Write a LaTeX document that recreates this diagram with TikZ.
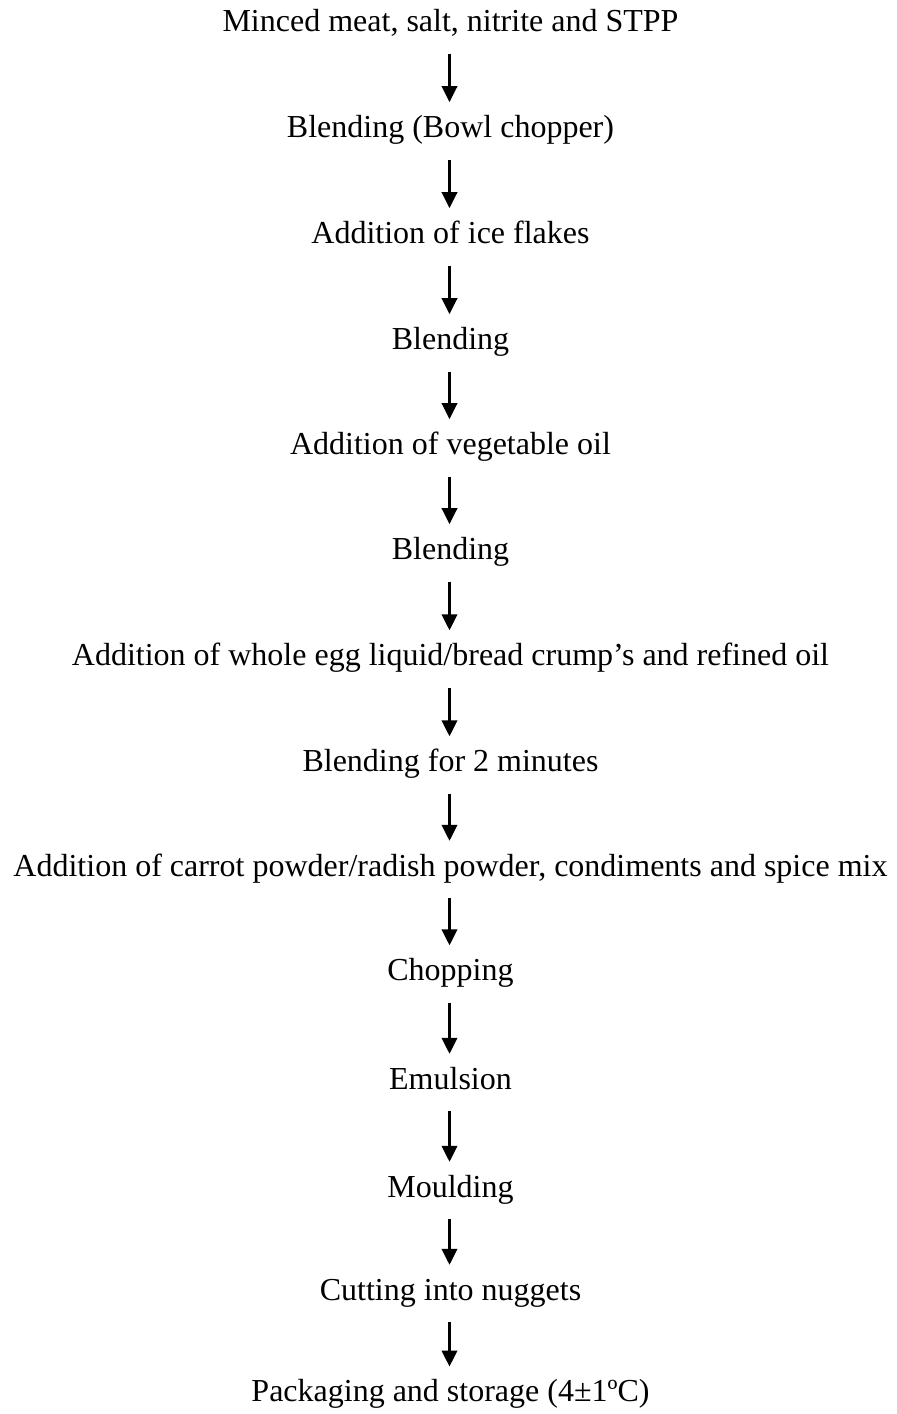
\documentclass[tikz,border=0pt]{standalone}
\usepackage{fontspec}
\setmainfont{Liberation Serif}
\usetikzlibrary{arrows.meta}
\tikzset{
  stepnode/.style={inner xsep=0pt, inner ysep=16pt, text height=19pt, text depth=6pt,
    font=\fontsize{32}{38}\selectfont, anchor=base},
  flowarrow/.style={line width=2.4pt, -{Triangle[length=16pt,width=15.5pt]}}
}
\begin{document}
\begin{tikzpicture}[x=1pt,y=-1pt]
\useasboundingbox (0,0) rectangle (897,1414);
\def\cx{450.5}
\node[stepnode] (n1) at (\cx,31.3) {Minced meat, salt, nitrite and STPP};
\node[stepnode] (n2) at (\cx,137.3) {Blending (Bowl chopper)};
\node[stepnode] (n3) at (\cx,243.3) {Addition of ice flakes};
\node[stepnode] (n4) at (\cx,349.3) {Blending};
\node[stepnode] (n5) at (\cx,454.3) {Addition of vegetable oil};
\node[stepnode] (n6) at (\cx,559.3) {Blending};
\node[stepnode] (n7) at (\cx,665.5) {Addition of whole egg liquid/bread crump’s and refined oil};
\node[stepnode] (n8) at (\cx,771.5) {Blending for 2 minutes};
\node[stepnode] (n9) at (\cx,876) {Addition of carrot powder/radish powder, condiments and spice mix};
\node[stepnode] (n10) at (\cx,980.5) {Chopping};
\node[stepnode] (n11) at (\cx,1089) {Emulsion};
\node[stepnode] (n12) at (\cx,1197) {Moulding};
\node[stepnode] (n13) at (\cx,1300) {Cutting into nuggets};
\node[stepnode] (n14) at (\cx,1401.7) {Packaging and storage (4±1ºC)};
\foreach \a/\b in {n1/n2,n2/n3,n3/n4,n4/n5,n5/n6,n6/n7,n7/n8,n8/n9,n9/n10,n10/n11,n11/n12,n12/n13,n13/n14}
  \draw[flowarrow] ([xshift=-1pt]\a.south) -- ([xshift=-1pt]\b.north);
\end{tikzpicture}
\end{document}
